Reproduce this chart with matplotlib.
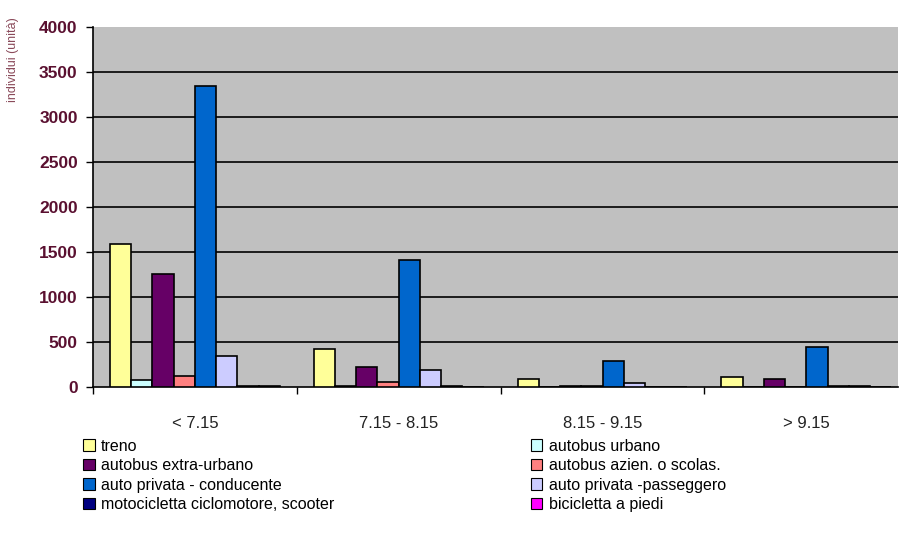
import matplotlib.pyplot as plt
import numpy as np
from matplotlib.patches import Patch

plt.rcParams['font.family'] = ['Liberation Sans', 'DejaVu Sans']

# fasce orarie
categories = ['< 7.15', '7.15 - 8.15', '8.15 - 9.15', '> 9.15']

series_names = ['treno', 'autobus urbano', 'autobus extra-urbano',
                'autobus azien. o scolas.', 'auto privata - conducente',
                'auto privata -passeggero', 'motocicletta ciclomotore, scooter',
                'bicicletta a piedi']
series_colors = ['#FFFF99', '#CCFFFF', '#660066', '#FF8080',
                 '#0066CC', '#CCCCFF', '#000080', '#FF00FF']

treno = [1590, 420, 85, 110]
autobus_urbano = [80, 10, 5, 0]
autobus_extra = [1260, 220, 10, 85]
autobus_azien = [120, 60, 10, 0]
auto_conducente = [3350, 1410, 285, 440]
auto_passeggero = [350, 190, 40, 10]
moto = [15, 15, 0, 10]
bici = [8, 0, 0, 0]

values = [treno, autobus_urbano, autobus_extra, autobus_azien,
          auto_conducente, auto_passeggero, moto, bici]

fig = plt.figure(figsize=(8.99, 5.35), dpi=100)
ax = fig.add_axes([0.1034, 0.2766, 0.8956, 0.6729])
ax.set_facecolor('#C0C0C0')

x = np.arange(len(categories))
n = len(values)
w = 1 / 9.6
for i, (vals, col) in enumerate(zip(values, series_colors)):
    offs = (i - (n - 1) / 2) * w
    ax.bar(x + offs, vals, width=w, color=col, edgecolor='black',
           linewidth=1.2, zorder=3)

ax.set_ylim(0, 4000)
ax.set_xlim(-0.5, 3.45)
ax.set_yticks(np.arange(0, 4001, 500))
# griglia orizzontale, senza la linea in cima
for yv in np.arange(500, 4000, 500):
    ax.axhline(yv, color='black', linewidth=1.2, zorder=1)

for lab in ax.get_yticklabels():
    lab.set_fontweight('bold')
ax.tick_params(axis='y', labelsize=12.5, labelcolor='#5a1030', direction='out',
               length=5, width=1, pad=6)

# tick alle separazioni dei gruppi, etichette al centro
ax.set_xticks(np.arange(-0.5, 3.5, 1.0))
ax.set_xticklabels([])
ax.set_xticks(x, minor=True)
ax.set_xticklabels(categories, minor=True)
ax.tick_params(axis='x', which='major', direction='out', length=5, width=1)
ax.tick_params(axis='x', which='minor', length=0, labelsize=12,
               labelcolor='#222222', pad=21)

for s in ['top', 'right']:
    ax.spines[s].set_visible(False)
ax.spines['left'].set_linewidth(1.2)
ax.spines['bottom'].set_linewidth(1.2)

ax.set_ylabel('individui (unità)', fontsize=9, color='#8a4a5a')
ax.yaxis.set_label_coords(-0.092, 0.91)

handles = [Patch(facecolor=c, edgecolor='black', linewidth=0.8) for c in series_colors]
left_idx = [0, 2, 4, 6]
right_idx = [1, 3, 5, 7]
leg_kw = dict(frameon=False, fontsize=11.5, handlelength=0.75, handleheight=0.75,
              handletextpad=0.4, labelspacing=0.28, borderaxespad=0)
fig.legend([handles[i] for i in left_idx], [series_names[i] for i in left_idx],
           loc='upper left', bbox_to_anchor=(0.085, 0.192), **leg_kw)
fig.legend([handles[i] for i in right_idx], [series_names[i] for i in right_idx],
           loc='upper left', bbox_to_anchor=(0.583, 0.192), **leg_kw)

plt.savefig('out.png', dpi=100)
